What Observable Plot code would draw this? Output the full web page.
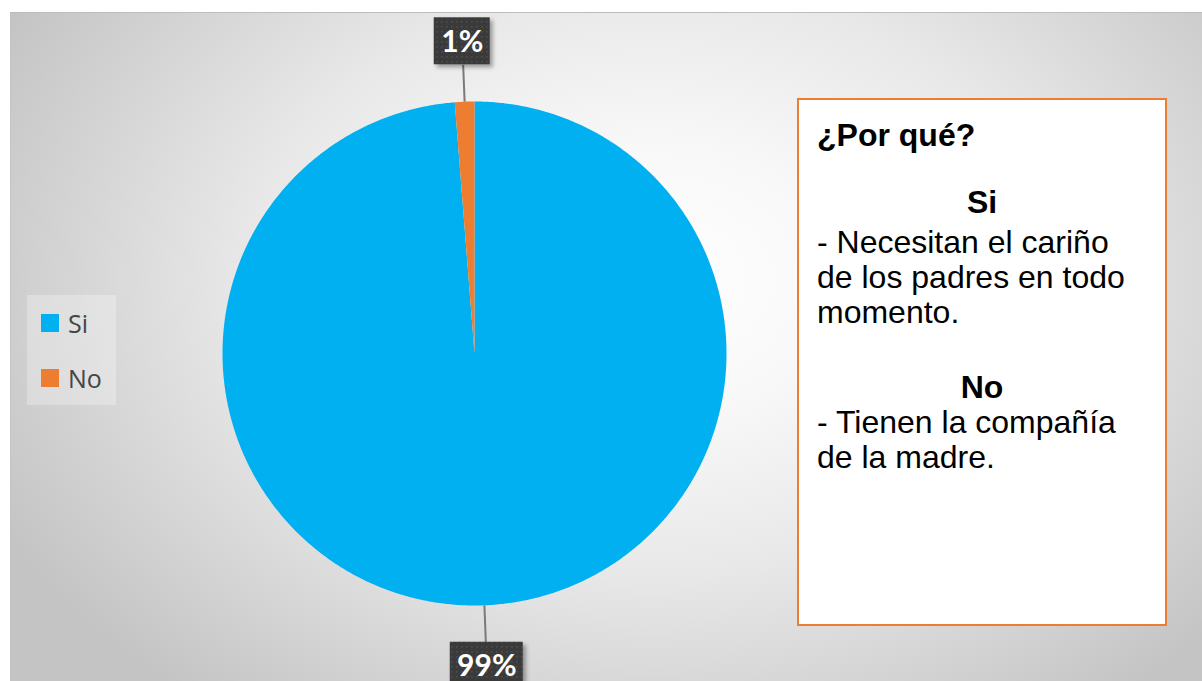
<!DOCTYPE html>
<html><head><meta charset="utf-8">
<script src="https://cdn.jsdelivr.net/npm/d3@7"></script>
<script src="https://cdn.jsdelivr.net/npm/@observablehq/plot@0.6"></script>
<style>
html,body{margin:0;padding:0;}
body{width:1202px;height:681px;overflow:hidden;position:relative;background:#fff;}
#bg{position:absolute;left:10px;top:12px;width:1192px;height:669px;box-sizing:border-box;
  border-top:1px solid #bdbdbd;border-left:1px solid #c4c4c4;
  background:radial-gradient(ellipse 62% 80% at 54% 40%, #ffffff 0%, #f8f8f8 25%, #e8e8e8 55%, #d4d4d4 80%, #c4c4c4 100%);}
#chart{position:absolute;left:0;top:0;}
#chart g[aria-label="rect"] rect{filter:drop-shadow(3px 3px 2px rgba(0,0,0,0.35));}
#legend{position:absolute;left:27px;top:295px;width:89px;height:110px;background:rgba(255,255,255,0.28);}
.lg-item{position:absolute;left:14px;height:18px;display:flex;align-items:center;font-family:"Open Sans",sans-serif;font-size:25px;color:#454545;}
.lg-sw{width:18px;height:18px;margin-right:9px;flex:none;}
#note{position:absolute;left:797px;top:98px;width:370px;height:528px;box-sizing:border-box;border:2px solid #ED7D31;background:#fff;}
.nt{position:absolute;font-family:"Liberation Sans",Arial,sans-serif;font-size:32px;line-height:35px;color:#000;white-space:nowrap;}
.nt.b{font-weight:bold;}
</style></head><body>
<div id="bg"></div>
<div id="chart"></div>
<div id="legend"></div>
<div id="note"></div>
<script>
// ---- data ----
const categories = ["Si", "No"];
const values = [79, 1];
const colors = ["#00B0F0", "#ED7D31"];
const noteTitle = "¿Por qué?";
const noteSiTitle = "Si";
const noteSiLines = ["- Necesitan el cariño", "de los padres en todo", "momento."];
const noteNoTitle = "No";
const noteNoLines = ["- Tienen la compañía", "de la madre."];

// ---- layout ----
const W = 1202, H = 681;
const cx = 474, cy = 353, R = 252;    // pie centre & radius in px
const labelR = 1.24;                   // label distance (in radii)
const boxH = 47;                        // label box height px

const rows = categories.map((name, i) => ({name, value: values[i]}));
const total = d3.sum(values);
const arcs = d3.pie().sort(null).value(d => d.value)(rows);

const pts = [];
for (const a of arcs) {
  const steps = Math.max(2, Math.ceil((a.endAngle - a.startAngle) / (Math.PI / 360)));
  pts.push({name: a.data.name, x: 0, y: 0});
  for (let i = 0; i <= steps; i++) {
    const t = a.startAngle + (a.endAngle - a.startAngle) * i / steps;
    pts.push({name: a.data.name, x: Math.sin(t), y: Math.cos(t)});
  }
  pts.push({name: a.data.name, x: 0, y: 0});
}

const labels = arcs.map(a => {
  const mid = (a.startAngle + a.endAngle) / 2;
  const text = Math.round(a.data.value / total * 100) + "%";
  return {
    name: a.data.name, text, mid,
    lx: labelR * Math.sin(mid), ly: labelR * Math.cos(mid),
    w: 17 * text.length + 22
  };
});

const plot = Plot.plot({
  width: W, height: H,
  margin: 0,
  style: {background: "transparent", overflow: "visible"},
  x: {domain: [-cx / R, (W - cx) / R], axis: null},
  y: {domain: [-(H - cy) / R, cy / R], axis: null},
  color: {domain: categories, range: colors},
  marks: [
    Plot.line(pts, {x: "x", y: "y", z: "name", fill: "name", stroke: "none", curve: "linear"}),
    Plot.link(labels, {
      x1: d => Math.sin(d.mid), y1: d => Math.cos(d.mid),
      x2: d => (labelR - boxH / 2 / R) * Math.sin(d.mid), y2: d => (labelR - boxH / 2 / R) * Math.cos(d.mid),
      stroke: "#7a7a7a", strokeWidth: 2
    }),
    Plot.rect(labels, {
      x1: d => d.lx - d.w / 2 / R, x2: d => d.lx + d.w / 2 / R,
      y1: d => d.ly - boxH / 2 / R, y2: d => d.ly + boxH / 2 / R,
      fill: "url(#dots)"
    }),
    Plot.text(labels, {x: "lx", y: "ly", text: "text", fill: "white", fontWeight: "bold",
      fontSize: 30, fontFamily: "Lato, 'Open Sans', sans-serif", dy: 1})
  ]
});
d3.select(plot).insert("defs", ":first-child").html(
  '<pattern id="dots" width="5" height="5" patternUnits="userSpaceOnUse">' +
  '<rect width="5" height="5" fill="#3a3a3a"/><rect x="1" y="1" width="1.6" height="1.6" fill="#4d4d4d"/></pattern>');
document.getElementById("chart").appendChild(plot);

// legend
const lg = document.getElementById("legend");
categories.forEach((c, i) => {
  const it = document.createElement("div");
  it.className = "lg-item";
  it.style.top = (19 + i * 55) + "px";
  const sw = document.createElement("span");
  sw.className = "lg-sw";
  sw.style.background = colors[i];
  it.appendChild(sw);
  it.appendChild(document.createTextNode(c));
  lg.appendChild(it);
});

// note box
const note = document.getElementById("note");
const noteL = 797 + 2, noteT = 98 + 2;
function addLine(txt, baseline, opts = {}) {
  const d = document.createElement("div");
  d.className = "nt" + (opts.bold ? " b" : "");
  d.textContent = txt;
  d.style.top = (baseline - 28.6 - noteT) + "px";
  if (opts.center) { d.style.left = "0"; d.style.width = "366px"; d.style.textAlign = "center"; }
  else d.style.left = (817 - noteL) + "px";
  note.appendChild(d);
}
addLine(noteTitle, 147, {bold: true});
addLine(noteSiTitle, 214, {bold: true, center: true});
noteSiLines.forEach((t, i) => addLine(t, 254 + i * 35));
addLine(noteNoTitle, 399, {bold: true, center: true});
noteNoLines.forEach((t, i) => addLine(t, 434 + i * 35));
</script>
</body></html>
